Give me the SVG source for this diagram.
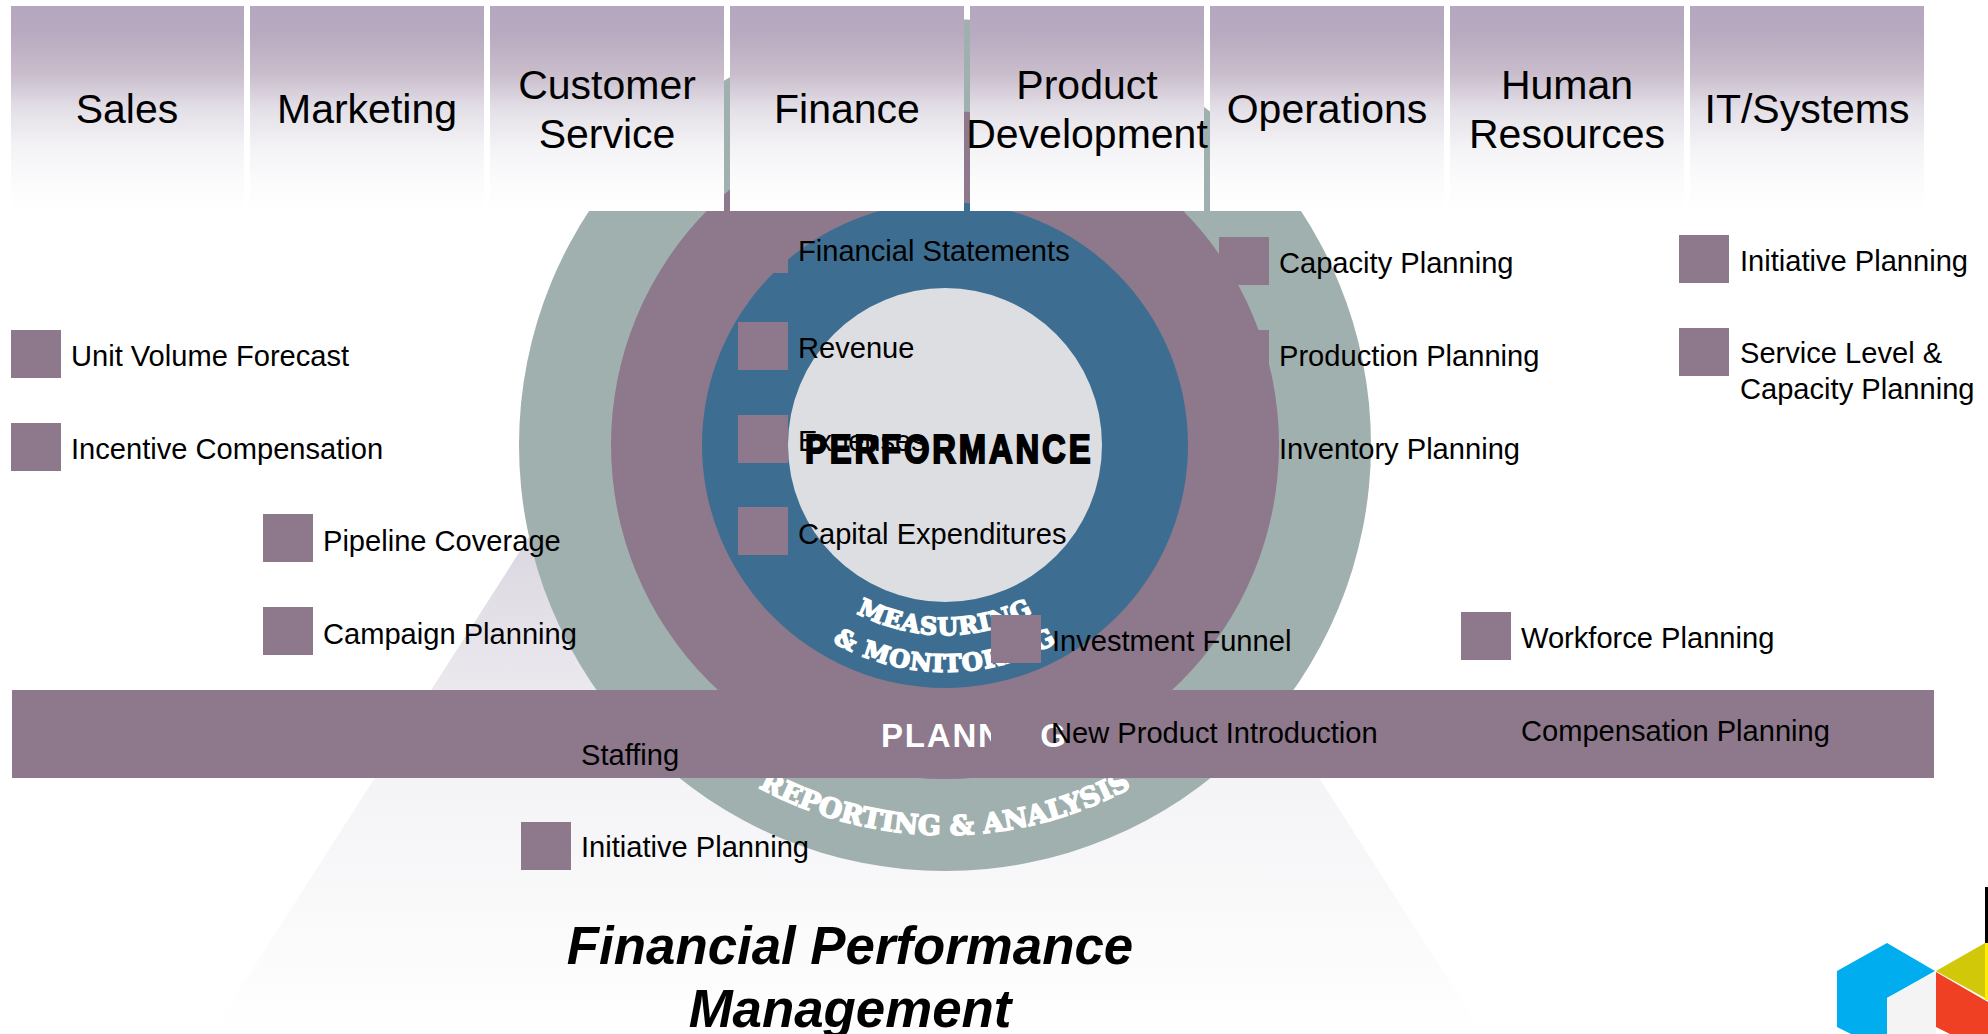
<svg xmlns="http://www.w3.org/2000/svg" width="1988" height="1034" viewBox="0 0 1988 1034">
<style>
text{font-family:"Liberation Sans",Arial,sans-serif;fill:#000}
.h{font-size:41px;text-anchor:middle}
.l{font-size:29.1px}
.s{fill:#8d788c}
text.w{font-family:"DejaVu Serif","Liberation Serif",serif;font-weight:bold;fill:#fff;stroke:#fff;stroke-width:1.6px}
.hd{fill:url(#hg)}
</style>
<defs>
<linearGradient id="hg" x1="0" y1="0" x2="0" y2="1">
<stop offset="0" stop-color="#b5a7bd"/><stop offset=".13" stop-color="#b8aac0"/><stop offset=".33" stop-color="#c9bdcc"/><stop offset=".5" stop-color="#e3dfe7"/><stop offset=".68" stop-color="#f3f2f5"/><stop offset=".85" stop-color="#fbfbfc"/><stop offset="1" stop-color="#fff"/>
</linearGradient>
<linearGradient id="tg" gradientUnits="userSpaceOnUse" x1="0" y1="40" x2="0" y2="1034">
<stop offset="0" stop-color="#b5a7bd"/><stop offset=".52" stop-color="#ddd9e2"/><stop offset=".74" stop-color="#f4f3f6"/><stop offset=".87" stop-color="#f9f9fa"/><stop offset="1" stop-color="#fff"/>
</linearGradient>
<path id="p1" d="M 755 445 A 190 190 0 0 0 1135 445"/>
<path id="p2" d="M 718 445 A 227 227 0 0 0 1172 445"/>
<path id="p3" d="M 555 445 A 390 390 0 0 0 1335 445"/>
</defs>
<rect width="1988" height="1034" fill="#fff"/>
<polygon id="backdrop" points="847,40 211,1034 1483,1034" fill="url(#tg)"/>
<g id="rings">
<circle cx="945" cy="445" r="426" fill="#a0b0ae"/>
<circle cx="945" cy="445" r="334" fill="#8d788c"/>
<circle cx="945" cy="445" r="243" fill="#3d6e91"/>
<circle cx="945" cy="445" r="157" fill="#dddee2"/>
<text id="t-report" class="w" font-size="27" letter-spacing="0.1" text-anchor="middle"><textPath href="#p3" startOffset="50%">REPORTING &amp; ANALYSIS</textPath></text>
<text id="t-measure" class="w" font-size="24" letter-spacing="1" text-anchor="middle"><textPath href="#p1" startOffset="50%">MEASURING</textPath></text>
<text id="t-monitor" class="w" font-size="24" letter-spacing="1" text-anchor="middle"><textPath href="#p2" startOffset="50%">&amp; MONITORING</textPath></text>
<text id="t-perf" transform="translate(805 463) scale(.82 1)" font-size="40" font-weight="bold" letter-spacing="3.5" stroke="#000" stroke-width="2">PERFORMANCE</text>
</g>
<g id="headers">
<g id="h-sales"><rect class="hd" x="11" y="6" width="233" height="205"/><text class="h" x="127" y="123">Sales</text></g>
<g id="h-marketing"><rect class="hd" x="250" y="6" width="234" height="205"/><text class="h" x="367" y="123">Marketing</text></g>
<g id="h-service"><rect class="hd" x="490" y="6" width="234" height="205"/><text class="h" x="607" y="99">Customer</text><text class="h" x="607" y="148">Service</text></g>
<g id="h-finance"><rect class="hd" x="730" y="6" width="234" height="205"/><text class="h" x="847" y="123">Finance</text></g>
<g id="h-product"><rect class="hd" x="970" y="6" width="234" height="205"/><text class="h" x="1087" y="99">Product</text><text class="h" x="1087" y="148">Development</text></g>
<g id="h-operations"><rect class="hd" x="1210" y="6" width="234" height="205"/><text class="h" x="1327" y="123">Operations</text></g>
<g id="h-hr"><rect class="hd" x="1450" y="6" width="234" height="205"/><text class="h" x="1567" y="99">Human</text><text class="h" x="1567" y="148">Resources</text></g>
<g id="h-it"><rect class="hd" x="1690" y="6" width="234" height="205"/><text class="h" x="1807" y="123">IT/Systems</text></g>
</g>
<g id="planning-bar"><rect x="12" y="690" width="1922" height="88" class="s"/><text x="881" y="747" font-size="33" font-weight="bold" letter-spacing="1.8" style="fill:#fff">PLANNING</text></g>
<g id="connectors"></g>
<g id="n-unit"><rect class="s" x="11" y="330" width="50" height="48"/><text class="l" x="71" y="366">Unit Volume Forecast</text></g>
<g id="n-incentive"><rect class="s" x="11" y="423" width="50" height="48"/><text class="l" x="71" y="459">Incentive Compensation</text></g>
<g id="n-pipeline"><rect class="s" x="263" y="514" width="50" height="48"/><text class="l" x="323" y="551">Pipeline Coverage</text></g>
<g id="n-campaign"><rect class="s" x="263" y="607" width="50" height="48"/><text class="l" x="323" y="644">Campaign Planning</text></g>
<g id="n-staffing"><rect class="s" x="521" y="728" width="50" height="48"/><text class="l" x="581" y="765">Staffing</text></g>
<g id="n-initiative1"><rect class="s" x="521" y="822" width="50" height="48"/><text class="l" x="581" y="857">Initiative Planning</text></g>
<g id="n-statements"><rect class="s" x="738" y="225" width="50" height="48"/><text class="l" x="798" y="261">Financial Statements</text></g>
<g id="n-revenue"><rect class="s" x="738" y="322" width="50" height="48"/><text class="l" x="798" y="358">Revenue</text></g>
<g id="n-expenses"><rect class="s" x="738" y="415" width="50" height="48"/><text class="l" x="798" y="451">Expenses</text></g>
<g id="n-capex"><rect class="s" x="738" y="507" width="50" height="48"/><text class="l" x="798" y="544">Capital Expenditures</text></g>
<g id="n-funnel"><rect class="s" x="991" y="615" width="50" height="48"/><text class="l" x="1052" y="651">Investment Funnel</text></g>
<g id="n-npi"><rect class="s" x="991" y="707" width="50" height="48"/><text class="l" x="1051" y="743">New Product Introduction</text></g>
<g id="n-capacity"><rect class="s" x="1219" y="237" width="50" height="48"/><text class="l" x="1279" y="273">Capacity Planning</text></g>
<g id="n-production"><rect class="s" x="1219" y="330" width="50" height="48"/><text class="l" x="1279" y="366">Production Planning</text></g>
<g id="n-inventory"><rect class="s" x="1219" y="423" width="50" height="48"/><text class="l" x="1279" y="459">Inventory Planning</text></g>
<g id="n-workforce"><rect class="s" x="1461" y="612" width="50" height="48"/><text class="l" x="1521" y="648">Workforce Planning</text></g>
<g id="n-compensation"><rect class="s" x="1461" y="705" width="50" height="48"/><text class="l" x="1521" y="741">Compensation Planning</text></g>
<g id="n-initiative2"><rect class="s" x="1679" y="235" width="50" height="48"/><text class="l" x="1740" y="271">Initiative Planning</text></g>
<g id="n-service"><rect class="s" x="1679" y="328" width="50" height="48"/><text class="l" x="1740" y="363">Service Level &amp;</text><text class="l" x="1740" y="399">Capacity Planning</text></g>
<g id="title" font-size="52.8" font-weight="bold" font-style="italic" text-anchor="middle"><text x="850" y="964">Financial Performance</text><text x="850" y="1027">Management</text></g>
<g id="logo">
<polygon points="1887,943 1837,971 1837,1027 1851,1034 1887,1034 1887,998 1935,971" fill="#00aeef"/>
<polygon points="1887,998 1936,972 1936,1034 1887,1034" fill="#f4f4f4"/>
<polygon points="1936,972 1988,1002 1988,1034 1950,1034 1936,1027" fill="#f04023"/>
<polygon points="1936,971 1985,943 1985,998" fill="#d1c80a"/>
<rect x="1985" y="943" width="3" height="57" fill="#ffee00"/>
<rect x="1985" y="887" width="3" height="56" fill="#000"/>
</g>
</svg>
